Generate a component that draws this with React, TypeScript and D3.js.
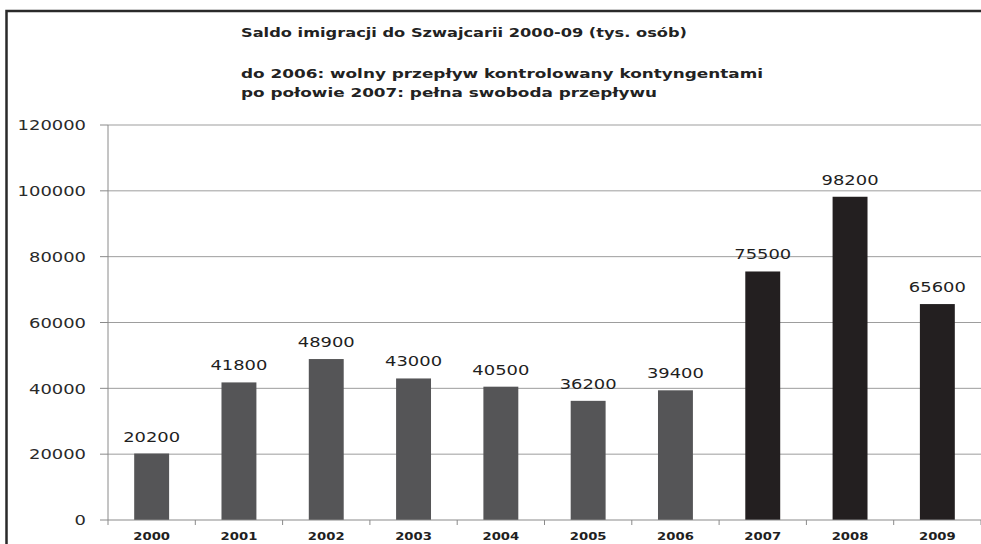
import { useEffect, useRef } from 'react'
import * as d3 from 'd3'

const YEARS = ['2000', '2001', '2002', '2003', '2004', '2005', '2006', '2007', '2008', '2009']
const NET_IMMIGRATION = [20200, 41800, 48900, 43000, 40500, 36200, 39400, 75500, 98200, 65600]
// years after full freedom of movement are drawn darker
const FREE_MOVEMENT = [false, false, false, false, false, false, false, true, true, true]
const Y_TICKS = [0, 20000, 40000, 60000, 80000, 100000, 120000]
const TITLE_LINES = [
  'Saldo imigracji do Szwajcarii 2000-09 (tys. osób)',
  'do 2006: wolny przepływ kontrolowany kontyngentami',
  'po połowie 2007: pełna swoboda przepływu',
]

const W = 981
const H = 544

export default function App() {
  const svgRef = useRef<SVGSVGElement>(null)

  useEffect(() => {
    document.body.style.margin = '0'
    const el = svgRef.current
    if (!el) return

    const left = 108
    const right = 981
    const top = 125
    const bottom = 520
    // the source picture is stretched sideways, so digits get a fixed advance
    const digitW = 11.4
    const yearDigitW = 9.2

    const x = d3.scaleBand<string>().domain(YEARS).range([left, right]).paddingInner(0.6).paddingOuter(0.3)
    const y = d3.scaleLinear().domain([0, 120000]).range([bottom, top])

    const svg = d3.select(el)
    svg.selectAll('*').remove()

    svg.append('rect').attr('width', W).attr('height', H).attr('fill', '#fff')

    // outer frame (only top + left are inside the picture)
    svg
      .append('path')
      .attr('d', `M6.5,${H} L6.5,11 L${W},11`)
      .attr('fill', 'none')
      .attr('stroke', '#2a2a2a')
      .attr('stroke-width', 2.5)

    // title block
    const baselines = [37, 78, 97]
    const widths = [446, 522, 416]
    TITLE_LINES.forEach((t, i) => {
      svg
        .append('text')
        .attr('x', 241)
        .attr('y', baselines[i])
        .attr('font-family', '"DejaVu Sans", sans-serif')
        .attr('font-weight', 'bold')
        .attr('font-size', 13)
        .attr('textLength', widths[i])
        .attr('lengthAdjust', 'spacingAndGlyphs')
        .attr('fill', '#222')
        .text(t)
    })

    // gridlines
    svg
      .append('g')
      .selectAll('line')
      .data(Y_TICKS.filter((d) => d > 0))
      .join('line')
      .attr('x1', left)
      .attr('x2', right)
      .attr('y1', (d) => y(d))
      .attr('y2', (d) => y(d))
      .attr('stroke', '#9d9d9d')
      .attr('stroke-width', 1)

    // y axis
    const yAxis = svg.append('g').attr('transform', `translate(${left},0)`)
    yAxis.append('line').attr('y1', top).attr('y2', bottom).attr('stroke', '#8a8a8a')
    yAxis
      .selectAll('line.tick')
      .data(Y_TICKS)
      .join('line')
      .attr('class', 'tick')
      .attr('x1', -8)
      .attr('x2', 0)
      .attr('y1', (d) => y(d))
      .attr('y2', (d) => y(d))
      .attr('stroke', '#8a8a8a')
    yAxis
      .selectAll('text')
      .data(Y_TICKS)
      .join('text')
      .attr('x', -22)
      .attr('y', (d) => y(d))
      .attr('dy', '0.36em')
      .attr('text-anchor', 'end')
      .attr('font-family', '"DejaVu Sans", sans-serif')
      .attr('font-size', 14.5)
      .attr('textLength', (d) => String(d).length * digitW)
      .attr('lengthAdjust', 'spacingAndGlyphs')
      .attr('fill', '#2a2a2a')
      .text((d) => String(d))

    // bars
    svg
      .append('g')
      .selectAll('rect')
      .data(YEARS)
      .join('rect')
      .attr('x', (d) => x(d)!)
      .attr('width', x.bandwidth())
      .attr('y', (d, i) => y(NET_IMMIGRATION[i]))
      .attr('height', (d, i) => bottom - y(NET_IMMIGRATION[i]))
      .attr('fill', (d, i) => (FREE_MOVEMENT[i] ? '#231f20' : '#555557'))

    // value labels
    svg
      .append('g')
      .selectAll('text')
      .data(YEARS)
      .join('text')
      .attr('x', (d) => x(d)! + x.bandwidth() / 2)
      .attr('y', (d, i) => y(NET_IMMIGRATION[i]) - 12)
      .attr('text-anchor', 'middle')
      .attr('font-family', '"DejaVu Sans", sans-serif')
      .attr('font-size', 14.5)
      .attr('textLength', (d, i) => String(NET_IMMIGRATION[i]).length * digitW)
      .attr('lengthAdjust', 'spacingAndGlyphs')
      .attr('fill', '#1f1f1f')
      .text((d, i) => String(NET_IMMIGRATION[i]))

    // x axis
    const xAxis = svg.append('g').attr('transform', `translate(0,${bottom})`)
    xAxis.append('line').attr('x1', left).attr('x2', right).attr('stroke', '#8a8a8a')
    const step = x.step()
    const edges = d3.range(YEARS.length + 1).map((i) => left + i * step)
    xAxis
      .selectAll('line.tick')
      .data(edges)
      .join('line')
      .attr('class', 'tick')
      .attr('x1', (d) => d)
      .attr('x2', (d) => d)
      .attr('y1', 0)
      .attr('y2', 5)
      .attr('stroke', '#8a8a8a')
    xAxis
      .selectAll('text')
      .data(YEARS)
      .join('text')
      .attr('x', (d) => x(d)! + x.bandwidth() / 2)
      .attr('y', 20)
      .attr('text-anchor', 'middle')
      .attr('font-family', '"DejaVu Sans", sans-serif')
      .attr('font-weight', 'bold')
      .attr('font-size', 11)
      .attr('textLength', (d) => d.length * yearDigitW)
      .attr('lengthAdjust', 'spacingAndGlyphs')
      .attr('fill', '#1f1f1f')
      .text((d) => d)
  }, [])

  return <svg ref={svgRef} width={W} height={H} style={{ display: 'block' }} />
}
